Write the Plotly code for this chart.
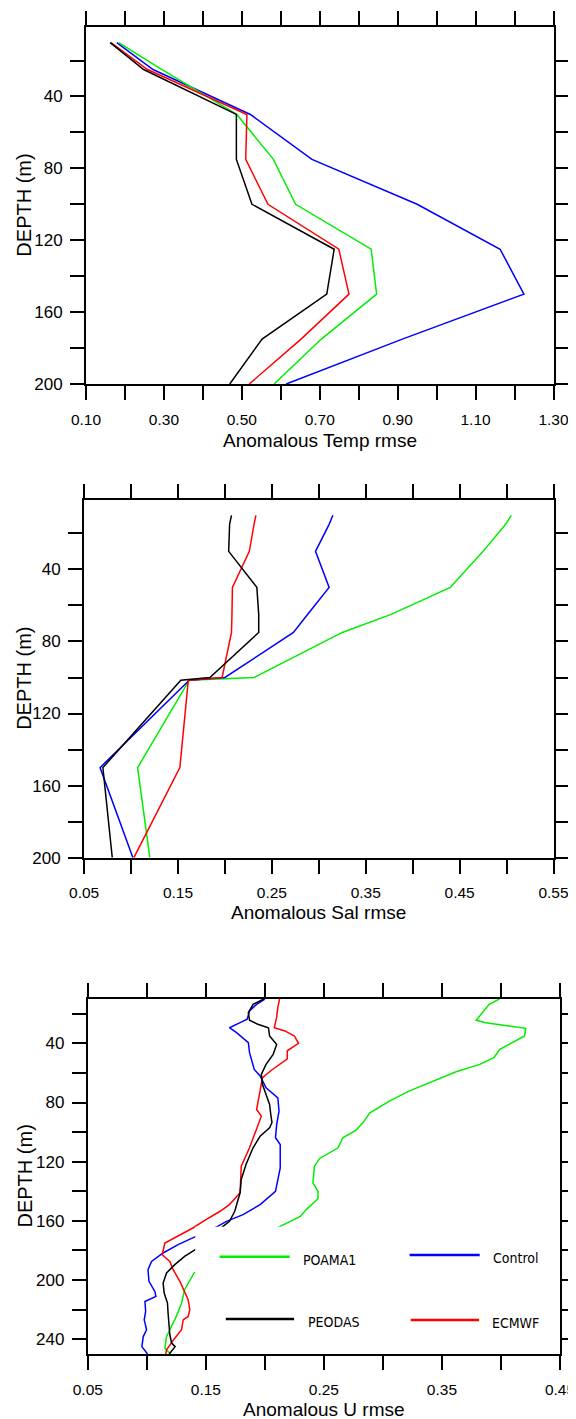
import plotly.graph_objects as go

W, H = 576, 1419
PAGE_OFFSET = 8  # the page body margin shifts the plot div by 8 px

# ---- Anomalous Temp rmse ----
temp_depth = [10, 25, 50, 75, 100, 125, 150, 175, 200]
temp_peodas = [0.162, 0.248, 0.486, 0.486, 0.526, 0.737, 0.718, 0.552, 0.469]
temp_ecmwf = [0.164, 0.258, 0.513, 0.510, 0.567, 0.749, 0.775, 0.652, 0.519]
temp_poama = [0.184, 0.295, 0.487, 0.581, 0.638, 0.832, 0.846, 0.704, 0.583]
temp_control = [0.179, 0.272, 0.522, 0.680, 0.950, 1.163, 1.224, 0.912, 0.614]

# ---- Anomalous Sal rmse ----
sal_depth = [10, 15, 30, 50, 65, 75, 100, 101.5, 150, 200]
sal_peodas = [0.207, 0.205, 0.204, 0.234, 0.236, 0.236, 0.184, 0.153, 0.070, 0.080]
sal_ecmwf = [0.233, 0.231, 0.226, 0.208, 0.2075, 0.207, 0.197, 0.161, 0.152, 0.103]
sal_poama = [0.505, 0.499, 0.475, 0.440, 0.377, 0.325, 0.231, 0.162, 0.107, 0.120]
sal_control = [0.315, 0.311, 0.2965, 0.311, 0.288, 0.273, 0.200, 0.162, 0.067, 0.102]

# ---- Anomalous U rmse (each series read at its own depths) ----
u_control_depth = [10, 13.6, 18, 23.7, 26, 29.4, 32.7, 39.5, 46.3, 57.6, 62, 70, 76.8,
                   85.8, 94.8, 103.8, 108.4, 124.2, 140, 149, 155.8, 160.3, 163.7,
                   171.6, 176.1, 181.7, 187.4, 193, 200.9, 207.7, 211, 214.5, 221.2,
                   226.9, 233.6, 238.2, 245, 250]
u_control = [0.200, 0.193, 0.187, 0.185, 0.179, 0.170, 0.176, 0.186, 0.187, 0.191, 0.196,
             0.201, 0.211, 0.212, 0.210, 0.209, 0.213, 0.213, 0.209, 0.196, 0.1815, 0.1675,
             0.160, 0.139, 0.1265, 0.1138, 0.104, 0.101, 0.1018, 0.1068, 0.1077, 0.0984,
             0.099, 0.0978, 0.0998, 0.097, 0.0958, 0.1006]

u_peodas_depth = [10, 13.6, 19.2, 24.4, 27.1, 29.4, 35, 40.7, 47.4, 54.2, 61, 67.8, 74.5,
                  81.3, 88.1, 93.5, 97, 102.7, 110.6, 121.9, 132, 141, 153.5, 160.3, 163.7,
                  179.5, 184, 189.6, 195.2, 202, 208.8, 215.6, 222.3, 229.1, 237, 242.6,
                  245, 250]
u_peodas = [0.199, 0.190, 0.186, 0.187, 0.194, 0.203, 0.204, 0.210, 0.207, 0.201, 0.197,
            0.198, 0.201, 0.204, 0.205, 0.206, 0.204, 0.196, 0.190, 0.184, 0.180, 0.179,
            0.1745, 0.170, 0.1646, 0.141, 0.132, 0.1237, 0.1167, 0.1138, 0.1147, 0.1175,
            0.118, 0.1187, 0.1195, 0.121, 0.124, 0.119]

u_ecmwf_depth = [10, 15.5, 22.3, 29.4, 31.6, 35, 40, 45, 50.5, 58.5, 63.2, 71.1, 79, 84.7,
                 89.2, 98, 101.6, 110.6, 123, 141, 149, 153.5, 160.3, 164.8, 175, 182.9,
                 187.4, 193, 200.9, 207.7, 213.3, 220, 224.6, 226.9, 233.6, 239.3, 243.8,
                 247.2, 250]
u_ecmwf = [0.2125, 0.211, 0.210, 0.208, 0.217, 0.225, 0.2285, 0.219, 0.219, 0.205, 0.198,
           0.196, 0.194, 0.193, 0.197, 0.193, 0.191, 0.187, 0.180, 0.179, 0.170, 0.162,
           0.1477, 0.139, 0.1153, 0.113, 0.1195, 0.1223, 0.128, 0.132, 0.135, 0.1364, 0.135,
           0.1308, 0.1294, 0.1237, 0.1195, 0.1167, 0.116]

u_poama_depth = [10, 13.6, 24.4, 26, 28.3, 29.8, 35, 39.5, 44, 49.7, 54.2, 59.2, 65.9,
                 72.3, 79, 86.9, 93.7, 98.9, 103.8, 110.6, 117.8, 123, 134.3, 140, 145,
                 152.4, 157, 163.7, 195.2, 206.5, 215.6, 224.6, 233.6, 238.2, 246, 250]
u_poama = [0.3986, 0.390, 0.379, 0.387, 0.407, 0.421, 0.420, 0.410, 0.399, 0.394, 0.382,
           0.362, 0.342, 0.322, 0.3055, 0.289, 0.283, 0.277, 0.266, 0.262, 0.2464, 0.242,
           0.2407, 0.245, 0.245, 0.235, 0.230, 0.2129, 0.140, 0.132, 0.1294, 0.125, 0.1195,
           0.1167, 0.1153, 0.120]

GREEN, BLUE, BLACK, RED = "#00ee00", "#0000ff", "#000000", "#ff0000"
SANS = "Liberation Sans, Arial, sans-serif"
NARROW = "Liberation Sans Narrow, Arial Narrow, DejaVu Sans Condensed, sans-serif"
XTICK_FONT = dict(family=SANS, size=15.5, color="black")
YTICK_FONT = dict(family=SANS, size=17, color="black")
TITLE_FONT = dict(family=SANS, size=19, color="black")


def px_x(p):
    return (p - PAGE_OFFSET) / W


def px_y(p):
    return 1 - (p - PAGE_OFFSET) / H


def ticks(start, stop, step, every=2, first_label=True, fmt="{:.2f}"):
    vals, text = [], []
    n = int(round((stop - start) / step))
    for i in range(n + 1):
        v = start + i * step
        vals.append(round(v, 4))
        lab = (i % every == 0) if first_label else (i % every == 1)
        text.append(fmt.format(v) if lab else "")
    return vals, text


fig = go.Figure()

panels = [
    dict(n="", series=[(temp_depth, temp_control, BLUE), (temp_depth, temp_poama, GREEN),
                       (temp_depth, temp_ecmwf, RED), (temp_depth, temp_peodas, BLACK)],
         xr=[0.10, 1.30], xt=ticks(0.10, 1.30, 0.10), yr=[200, 1.5],
         yt=ticks(20, 200, 20, first_label=False, fmt="{:.0f}"),
         dx=[86, 553.5], dy=[27.3, 384], title="Anomalous Temp rmse", ty=441),
    dict(n="2", series=[(sal_depth, sal_poama, GREEN), (sal_depth, sal_control, BLUE),
                        (sal_depth, sal_ecmwf, RED), (sal_depth, sal_peodas, BLACK)],
         xr=[0.05, 0.55], xt=ticks(0.05, 0.55, 0.05), yr=[200, 1.5],
         yt=ticks(20, 200, 20, first_label=False, fmt="{:.0f}"),
         dx=[84.1, 553.5], dy=[500, 857.7], title="Anomalous Sal rmse", ty=912),
    dict(n="3", series=[(u_poama_depth, u_poama, GREEN), (u_control_depth, u_control, BLUE),
                        (u_ecmwf_depth, u_ecmwf, RED), (u_peodas_depth, u_peodas, BLACK)],
         xr=[0.05, 0.45], xt=ticks(0.05, 0.45, 0.05), yr=[250, 10],
         yt=ticks(20, 240, 20, first_label=False, fmt="{:.0f}"),
         dx=[87.8, 560], dy=[999, 1354], title="Anomalous U rmse", ty=1409),
]

annotations = []
for p in panels:
    n = p["n"]
    for depth, vals, col in p["series"]:
        fig.add_trace(go.Scatter(x=vals, y=depth, mode="lines", xaxis="x" + n, yaxis="y" + n,
                                 line=dict(color=col, width=1.5), showlegend=False,
                                 hoverinfo="skip"))
    axis_common = dict(showline=True, linecolor="black", linewidth=2, mirror="allticks",
                       ticks="outside", ticklen=14, tickwidth=2, tickcolor="black",
                       showgrid=False, zeroline=False, tickmode="array", automargin=False)
    fig.update_layout(**{
        "xaxis" + n: dict(axis_common, range=p["xr"], tickvals=p["xt"][0], ticktext=p["xt"][1],
                          domain=[px_x(p["dx"][0]), px_x(p["dx"][1])], anchor="y" + n,
                          tickfont=XTICK_FONT, ticklabelstandoff=6),
        "yaxis" + n: dict(axis_common, range=p["yr"], tickvals=p["yt"][0], ticktext=p["yt"][1],
                          domain=[px_y(p["dy"][1]), px_y(p["dy"][0])], anchor="x" + n,
                          tickfont=YTICK_FONT, ticklabelstandoff=4),
    })
    mid_x = (p["dx"][0] + p["dx"][1]) / 2
    mid_y = (p["dy"][0] + p["dy"][1]) / 2
    annotations.append(dict(text=p["title"], x=px_x(mid_x), y=px_y(p["ty"]), xref="paper",
                            yref="paper", showarrow=False, font=TITLE_FONT,
                            xanchor="center", yanchor="middle"))
    annotations.append(dict(text="DEPTH (m)", x=px_x(24), y=px_y(mid_y), xref="paper",
                            yref="paper", showarrow=False, textangle=-90,
                            font=dict(TITLE_FONT, size=20), xanchor="center", yanchor="middle"))

# legend box drawn inside the U panel, hiding the lines underneath
shapes = [dict(type="rect", xref="x3", yref="y3", x0=0.141, x1=0.444, y0=164, y1=249,
               fillcolor="white", line=dict(width=0), layer="above")]
legend_items = [
    ("POAMA1", GREEN, 219.6, 289.7, 1256.7, 300.7),
    ("Control", BLUE, 409.6, 479.7, 1255, 490.8),
    ("PEODAS", BLACK, 225.8, 294.1, 1319, 305.5),
    ("ECMWF", RED, 410.7, 479, 1320, 490),
]
for name, col, x0, x1, y, tx in legend_items:
    shapes.append(dict(type="line", xref="paper", yref="paper", x0=px_x(x0), x1=px_x(x1),
                       y0=px_y(y), y1=px_y(y), line=dict(color=col, width=2.5), layer="above"))
    annotations.append(dict(text=name, x=px_x(tx), y=px_y(y + 3), xref="paper", yref="paper",
                            showarrow=False, xanchor="left", yanchor="middle",
                            font=dict(family=NARROW, size=14, color="black")))

fig.update_layout(width=W, height=H, margin=dict(l=0, r=0, t=0, b=0, autoexpand=False),
                  paper_bgcolor="white", plot_bgcolor="white", showlegend=False,
                  shapes=shapes, annotations=annotations)

fig.write_html("out.html")
